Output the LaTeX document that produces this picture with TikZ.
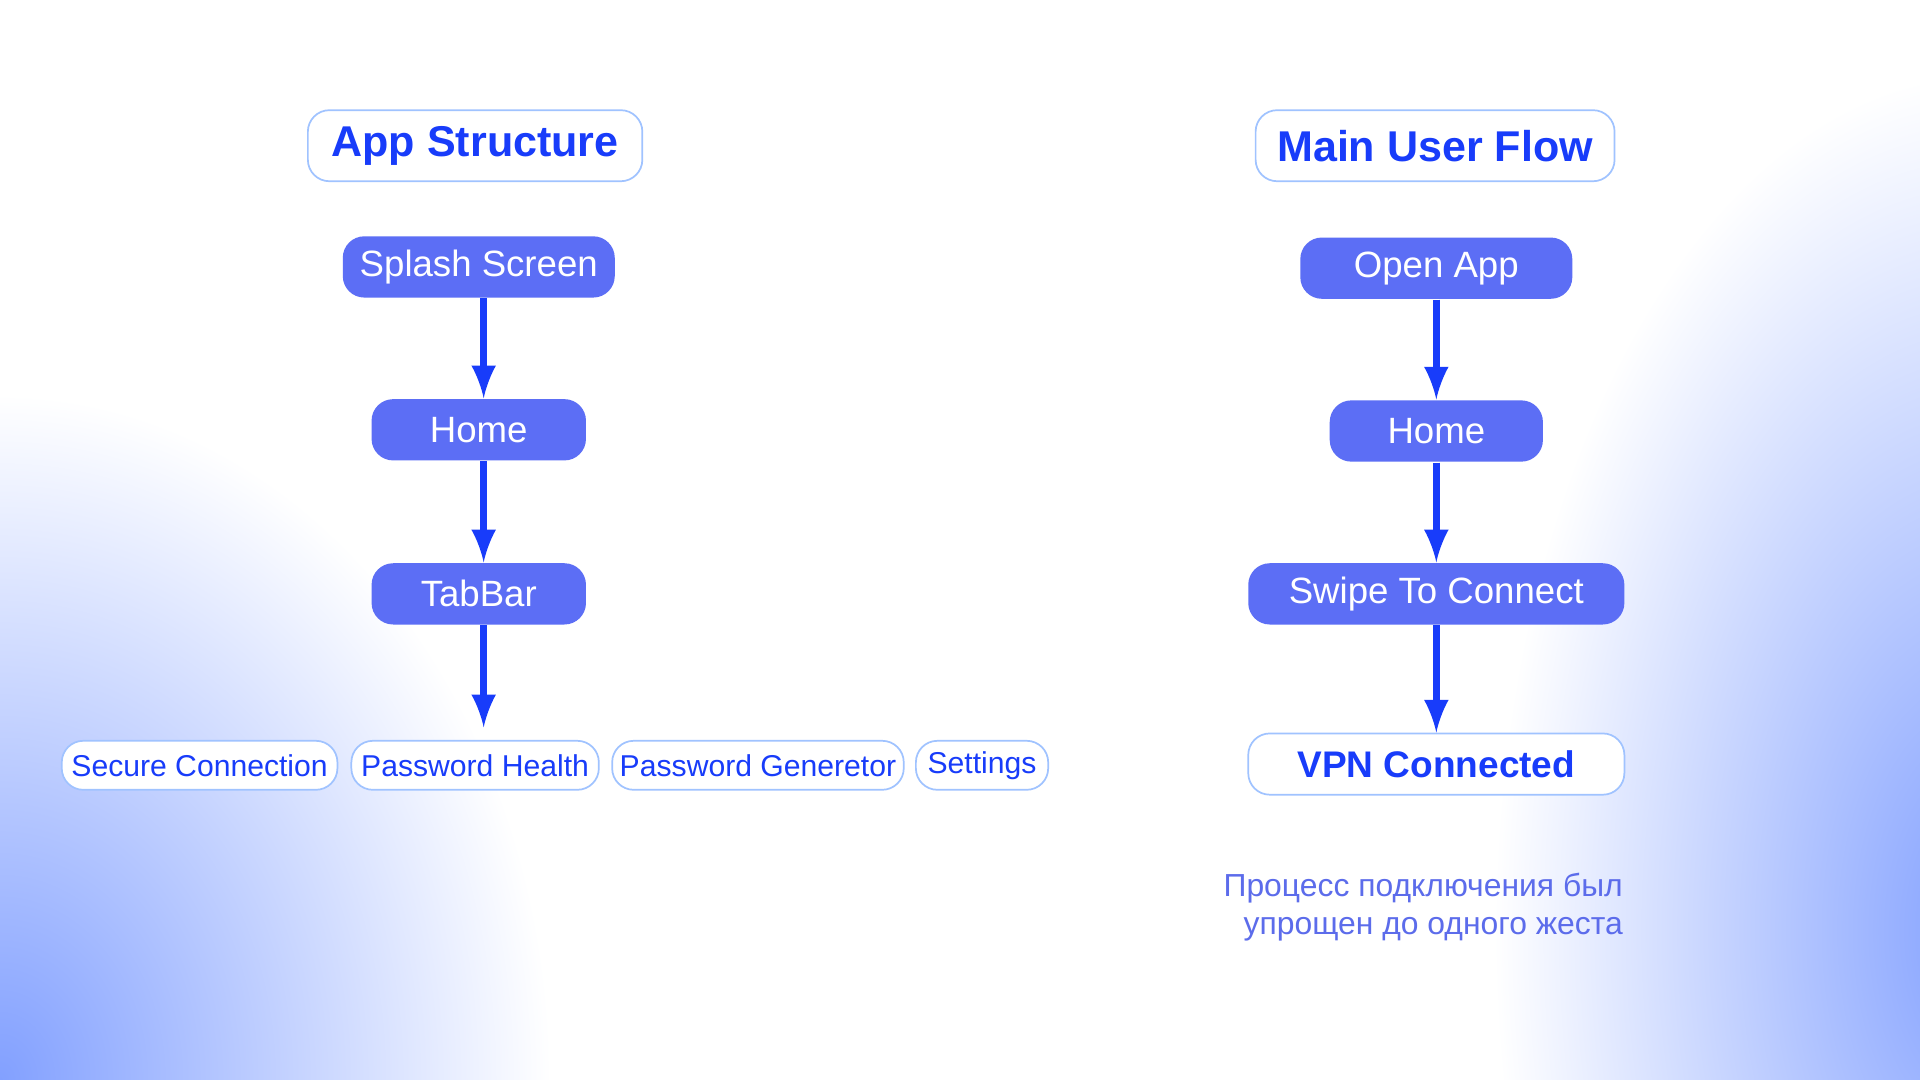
\documentclass[tikz,border=0pt]{standalone}
\usepackage{fontspec}
\setmainfont{Liberation Sans}
\usetikzlibrary{positioning}
\definecolor{flowblue}{RGB}{92,110,245}
\definecolor{inkblue}{RGB}{24,60,250}
\definecolor{edgeblue}{RGB}{160,195,255}
\definecolor{notepurple}{RGB}{92,108,235}
\definecolor{hazeblue}{RGB}{130,160,255}
\begin{document}
\begin{tikzpicture}[x=0.01cm, y=-0.01cm,
    screen/.style={fill=flowblue, rounded corners=5pt, text=white, minimum height=0.5cm, font=\fontsize{8.5}{10}\selectfont, inner sep=0pt},
    heading/.style={draw=edgeblue, fill=white, rounded corners=5pt, text=inkblue, minimum height=0.58cm, font=\fontsize{10}{12}\selectfont\bfseries, inner sep=0pt},
    leaf/.style={draw=edgeblue, fill=white, rounded corners=5pt, text=inkblue, minimum height=0.4cm, font=\fontsize{7}{9}\selectfont, inner sep=0pt},
    arrow/.style={-latex, line width=1.6pt, draw=inkblue}
]
% Background
\useasboundingbox (0,0) rectangle (1568,882);
\begin{scope}
\clip (0,0) rectangle (1568,882);
\fill[white] (0,0) rectangle (1568,882);
\shade[inner color=hazeblue, outer color=white] (0,882) ellipse (450 and 560);
\shade[inner color=hazeblue, outer color=white] (1620,760) ellipse (400 and 700);
\end{scope}

% App structure
\node[heading, minimum width=2.73cm] (appTitle) at (388,119) {App Structure};
\node[screen, minimum width=2.22cm] (splash) at (391,218) {Splash Screen};
\node[screen, minimum width=1.75cm] (home) at (391,351) {Home};
\node[screen, minimum width=1.75cm] (tabbar) at (391,485) {TabBar};
\node[leaf, minimum width=2.25cm] (secure) at (163,625) {Secure Connection};
\node[leaf, minimum width=2.02cm] (health) at (388,625) {Password Health};
\node[leaf, minimum width=2.38cm] (generator) at (619,625) {Password Generetor};
\node[leaf, minimum width=1.08cm] (settings) at (802,625) {Settings};
\coordinate (tabEnd) at (395,594);

\draw[arrow] (splash.south -| 395,0) -- (home.north -| 395,0);
\draw[arrow] (home.south -| 395,0) -- (tabbar.north -| 395,0);
\draw[arrow] (tabbar.south -| tabEnd) -- (tabEnd);

% Main user flow
\node[heading, minimum width=2.93cm] (flowTitle) at (1172,119) {Main User Flow};
\node[screen, minimum width=2.22cm] (open) at (1173,219) {Open App};
\node[screen, minimum width=1.74cm] (home2) at (1173,352) {Home};
\node[screen, minimum width=3.07cm] (swipe) at (1173,485) {Swipe To Connect};
\node[heading, minimum width=3.07cm, minimum height=0.5cm, font=\fontsize{8.6}{10}\selectfont\bfseries] (vpn) at (1173,624) {VPN Connected};
\draw[arrow] (open) -- (home2);
\draw[arrow] (home2) -- (swipe);
\draw[arrow] (swipe) -- (vpn);

% Note
\node[anchor=north east, align=right, text=notepurple, font=\fontsize{7.4}{8.9}\selectfont, inner sep=0pt] (note) at (1326,712) {Процесс подключения был\\упрощен до одного жеста};
\end{tikzpicture}
\end{document}
